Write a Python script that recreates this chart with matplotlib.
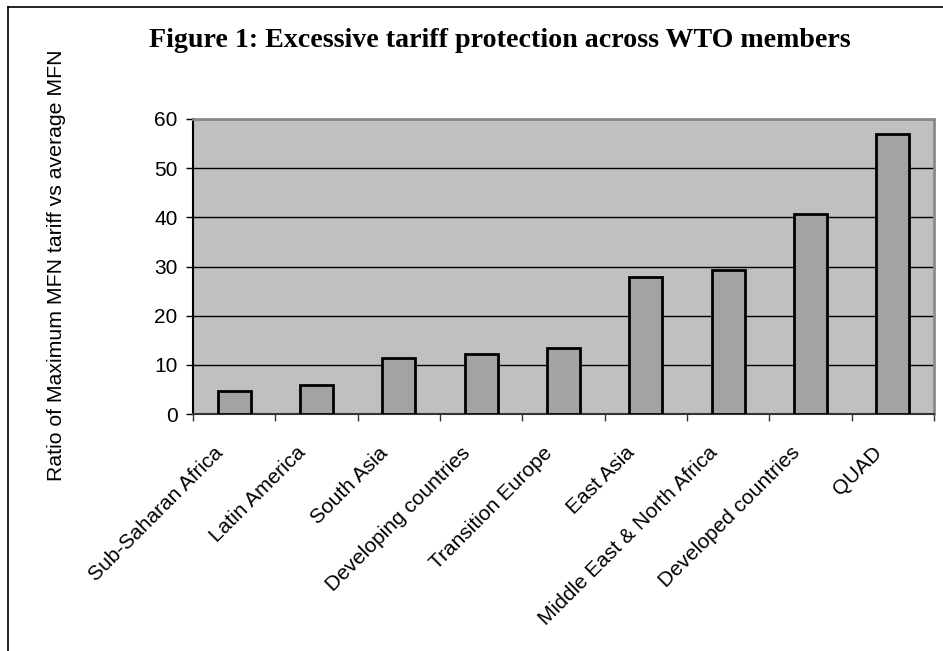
import matplotlib
matplotlib.use("Agg")
import matplotlib.pyplot as plt
from matplotlib.lines import Line2D
from matplotlib.transforms import ScaledTranslation
import numpy as np

# Data
regions = ["Sub-Saharan Africa", "Latin America", "South Asia", "Developing countries",
           "Transition Europe", "East Asia", "Middle East & North Africa",
           "Developed countries", "QUAD"]
ratios = [4.7, 5.9, 11.4, 12.2, 13.4, 27.9, 29.3, 40.6, 56.9]
y_ticks = [0, 10, 20, 30, 40, 50, 60]

title = "Figure 1: Excessive tariff protection across WTO members"
y_label = "Ratio of Maximum MFN tariff vs average MFN"

W, H, DPI = 943, 651, 100
fig = plt.figure(figsize=(W / DPI, H / DPI), dpi=DPI)
fig.patch.set_facecolor("white")

# Plot area in pixel coordinates
left, right, top, bottom = 193, 934, 119, 414
ax = fig.add_axes([left / W, 1 - bottom / H, (right - left) / W, (bottom - top) / H])
ax.set_facecolor("#C0C0C0")

x = np.arange(len(regions))
ax.bar(x, ratios, width=0.4, color="#A3A3A3", edgecolor="black", linewidth=2.0, zorder=3)

ax.set_xlim(-0.5, len(regions) - 0.5)
ax.set_ylim(0, 60)

# Gridlines
ax.set_yticks(y_ticks)
ax.yaxis.grid(True, color="black", linewidth=1.0, zorder=1)
ax.set_axisbelow(True)

# Spines
for side in ("top", "right"):
    ax.spines[side].set_color("#8A8A8A")
    ax.spines[side].set_linewidth(2.0)
ax.spines["left"].set_color("black")
ax.spines["left"].set_linewidth(1.5)
ax.spines["bottom"].set_color("#333333")
ax.spines["bottom"].set_linewidth(1.5)

# Y ticks
ax.tick_params(axis="y", direction="out", length=5, width=1.0, pad=6,
               labelsize=15, colors="black")
for lab in ax.get_yticklabels():
    lab.set_fontfamily("Liberation Sans")

# X ticks: marks on category boundaries, labels at category centres
ax.set_xticks(np.arange(-0.5, len(regions), 1.0), minor=True)
ax.tick_params(axis="x", which="minor", direction="out", length=5, width=1.0, color="#333333")
ax.set_xticks(x)
ax.set_xticklabels(regions, rotation=45, ha="right", va="top",
                   fontsize=15, fontfamily="Liberation Sans")
ax.tick_params(axis="x", which="major", length=0, pad=21)
shift = ScaledTranslation(-7 / DPI, 0, fig.dpi_scale_trans)
for lab in ax.get_xticklabels():
    lab.set_transform(lab.get_transform() + shift)

# Title and axis title
fig.text(499.5 / W, 1 - 47 / H, title, ha="center", va="baseline",
         fontsize=20.2, fontweight="bold", fontfamily="Liberation Serif")
fig.text(57 / W, 1 - 265 / H, y_label, rotation=90, ha="center", va="center",
         fontsize=15.3, fontfamily="Liberation Sans")

# Frame lines along the top and left edges
fig.add_artist(Line2D([8 / W, 1.0], [1 - 7 / H, 1 - 7 / H], color="black", linewidth=1.2,
                      transform=fig.transFigure))
fig.add_artist(Line2D([8 / W, 8 / W], [0.0, 1 - 7 / H], color="black", linewidth=1.2,
                      transform=fig.transFigure))

fig.savefig("out.png", dpi=DPI)
